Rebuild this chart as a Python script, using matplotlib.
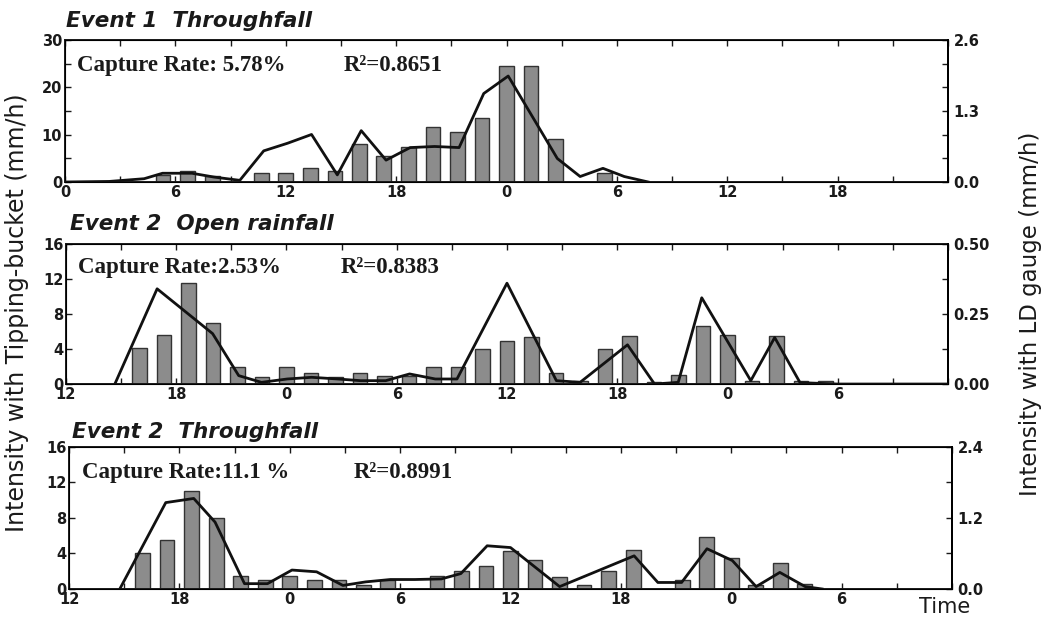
import numpy as np
import matplotlib.pyplot as plt
from matplotlib.ticker import MultipleLocator, FuncFormatter

# Event 1 throughfall: tipping-bucket bars (mm/h), LD gauge line (mm/h), time in hours
e1_bar_t = [5.33, 6.67, 8.0, 10.67, 12.0, 13.33, 14.67, 16.0, 17.33, 18.67,
            20.0, 21.33, 22.67, 24.0, 25.33, 26.67, 29.33]
e1_bar_v = [1.5, 2.3, 1.2, 2.0, 2.0, 3.0, 2.3, 8.0, 5.5, 7.4,
            11.6, 10.5, 13.5, 24.6, 24.6, 9.1, 2.0]
e1_ld_t = [0, 2.4, 4.3, 5.3, 6.9, 8.1, 9.5, 10.8, 12.1, 13.4, 14.8, 16.1, 17.45,
           18.76, 20.09, 21.42, 22.76, 24.09, 26.76, 28.0, 29.24, 30.4, 31.7]
e1_ld_v = [0, 0.01, 0.06, 0.16, 0.16, 0.09, 0.03, 0.57, 0.71, 0.87, 0.13, 0.94, 0.40,
           0.63, 0.65, 0.63, 1.62, 1.94, 0.43, 0.10, 0.25, 0.10, 0.0]

# Event 2 open rainfall
e2o_bar_t = [16.0, 17.33, 18.67, 20.0, 21.33, 22.67, 24.0, 25.33, 26.67, 28.0,
             29.33, 30.67, 32.0, 33.33, 34.67, 36.0, 37.33, 38.67, 40.0, 41.33,
             42.67, 44.0, 45.33, 46.67, 48.0, 49.33, 50.67, 52.0, 53.33]
e2o_bar_v = [4.1, 5.6, 11.5, 7.0, 1.9, 0.8, 1.9, 1.3, 0.85, 1.3,
             0.9, 0.9, 1.9, 1.9, 4.0, 4.9, 5.4, 1.3, 0.4, 4.0,
             5.5, 0.2, 1.0, 6.6, 5.6, 0.4, 5.5, 0.4, 0.3]
e2o_ld_t = [14.66, 16.96, 19.98, 21.4, 22.64, 24.04, 25.37, 26.79, 28.03, 29.4,
            30.7, 32.1, 33.28, 36.0, 38.69, 39.98, 42.56, 44.03, 45.32, 46.6,
            49.27, 50.57, 51.95, 53.97, 60]
e2o_ld_v = [0, 0.34, 0.18, 0.03, 0.006, 0.018, 0.024, 0.018, 0.012, 0.012,
            0.036, 0.018, 0.018, 0.36, 0.012, 0.006, 0.14, 0, 0.006, 0.308,
            0.012, 0.166, 0.005, 0, 0]

# Event 2 throughfall
e2t_bar_t = [16.0, 17.33, 18.67, 20.0, 21.33, 22.67, 24.0, 25.33, 26.67, 28.0,
             29.33, 32.0, 33.33, 34.67, 36.0, 37.33, 38.67, 40.0, 41.33,
             42.67, 45.33, 46.67, 48.0, 49.33, 50.67, 52.0]
e2t_bar_v = [4.0, 5.5, 11.0, 8.0, 1.5, 1.0, 1.5, 1.0, 1.0, 0.5,
             1.0, 1.5, 2.0, 2.6, 4.3, 3.3, 1.4, 0.5, 2.0,
             4.4, 1.05, 5.9, 3.45, 0.4, 2.9, 0.55]
e2t_ld_t = [14.76, 17.26, 18.78, 19.94, 21.54, 22.79, 24.12, 25.46, 26.89, 28.13,
            29.47, 30.8, 32.24, 33.3, 34.73, 36.0, 38.67, 42.72, 44.01, 45.3,
            46.68, 48.06, 49.35, 50.64, 52.02, 52.94]
e2t_ld_v = [0, 1.46, 1.53, 1.13, 0.09, 0.09, 0.32, 0.29, 0.06, 0.12,
            0.16, 0.16, 0.17, 0.26, 0.73, 0.70, 0.04, 0.56, 0.11, 0.11,
            0.68, 0.48, 0.04, 0.28, 0.04, 0]

panels = [
    dict(title='Event 1  Throughfall', rect=[0.0623, 0.7060, 0.8458, 0.2294],
         xlim=(0, 48), bt=e1_bar_t, bv=e1_bar_v, lt=e1_ld_t, lv=e1_ld_v,
         ylim=30, ymaj=10, ymin=5, rlim=2.6, rmaj=1.3, rmin=1.3 / 3, rfmt='%.1f',
         cap='Capture Rate: 5.78%', r2='R\u00b2=0.8651', title_xy=(66, 27),
         cap_x=0.0136, cap_y=0.782, r2_x=0.315),
    dict(title='Event 2  Open rainfall', rect=[0.0632, 0.3796, 0.8448, 0.2262],
         xlim=(12, 60), bt=e2o_bar_t, bv=e2o_bar_v, lt=e2o_ld_t, lv=e2o_ld_v,
         ylim=16, ymaj=4, ymin=None, rlim=0.5, rmaj=0.25, rmin=0.125, rfmt='%.2f',
         cap='Capture Rate:2.53%', r2='R\u00b2=0.8383', title_xy=(70, 230),
         cap_x=0.0136, cap_y=0.793, r2_x=0.312),
    dict(title='Event 2  Throughfall', rect=[0.0661, 0.0485, 0.8458, 0.2294],
         xlim=(12, 60), bt=e2t_bar_t, bv=e2t_bar_v, lt=e2t_ld_t, lv=e2t_ld_v,
         ylim=16, ymaj=4, ymin=None, rlim=2.4, rmaj=1.2, rmin=0.6, rfmt='%.1f',
         cap='Capture Rate:11.1 %', r2='R\u00b2=0.8991', title_xy=(72, 438),
         cap_x=0.0147, cap_y=0.782, r2_x=0.322),
]

W, H = 1044, 619
fig = plt.figure(figsize=(W / 100, H / 100), dpi=100)
ink = '#1a1a1a'

for p in panels:
    ax = fig.add_axes(p['rect'])
    ax.bar(p['bt'], p['bv'], width=0.8, color='#8c8c8c', edgecolor='#333333', linewidth=1.0, zorder=2)
    ax.set_xlim(*p['xlim'])
    ax.set_ylim(0, p['ylim'])
    ax.yaxis.set_major_locator(MultipleLocator(p['ymaj']))
    if p['ymin']:
        ax.yaxis.set_minor_locator(MultipleLocator(p['ymin']))
    ax.xaxis.set_major_locator(MultipleLocator(6))
    ax.xaxis.set_minor_locator(MultipleLocator(3))
    xmax = p['xlim'][1]
    ax.xaxis.set_major_formatter(FuncFormatter(lambda x, pos, xm=xmax: '' if x >= xm else '%d' % (x % 24)))
    ax.tick_params(which='both', direction='in', top=True, right=False, colors=ink,
                   labelsize=10.5, width=1.0, length=4, pad=2)
    for lab in ax.get_xticklabels() + ax.get_yticklabels():
        lab.set_fontweight('bold')
    for s in ax.spines.values():
        s.set_linewidth(1.4)
        s.set_color(ink)

    ax2 = ax.twinx()
    ax2.plot(p['lt'], p['lv'], color='#111111', lw=2.0, zorder=3)
    ax2.set_ylim(0, p['rlim'])
    ax2.yaxis.set_major_locator(MultipleLocator(p['rmaj']))
    ax2.yaxis.set_minor_locator(MultipleLocator(p['rmin']))
    ax2.yaxis.set_major_formatter(FuncFormatter(lambda v, pos, f=p['rfmt']: f % v))
    ax2.tick_params(which='both', direction='in', colors=ink, labelsize=10.5, width=1.0, length=4, pad=4)
    for lab in ax2.get_yticklabels():
        lab.set_fontweight('bold')
    ax2.spines['right'].set_linewidth(1.4)

    ax.text(p['cap_x'], p['cap_y'], p['cap'], transform=ax.transAxes, family='Liberation Serif',
            fontweight='bold', fontsize=16.5, color=ink, zorder=5)
    ax.text(p['r2_x'], p['cap_y'], p['r2'], transform=ax.transAxes, family='Liberation Serif',
            fontweight='bold', fontsize=16.5, color=ink, zorder=5)
    tx, ty = p['title_xy']
    fig.text(tx / W, 1 - ty / H, p['title'], fontsize=15.5, fontweight='bold', style='italic',
             color=ink, va='baseline')

fig.text(17 / W, 1 - 313 / H, 'Intensity with Tipping-bucket (mm/h)', rotation=90,
         ha='center', va='center', fontsize=17, color=ink)
fig.text(1030 / W, 1 - 314 / H, 'Intensity with LD gauge (mm/h)', rotation=90,
         ha='center', va='center', fontsize=16.5, color=ink)
fig.text(945 / W, 1 - 607 / H, 'Time', ha='center', va='center', fontsize=15, color=ink)

plt.savefig('out.png', dpi=100)
